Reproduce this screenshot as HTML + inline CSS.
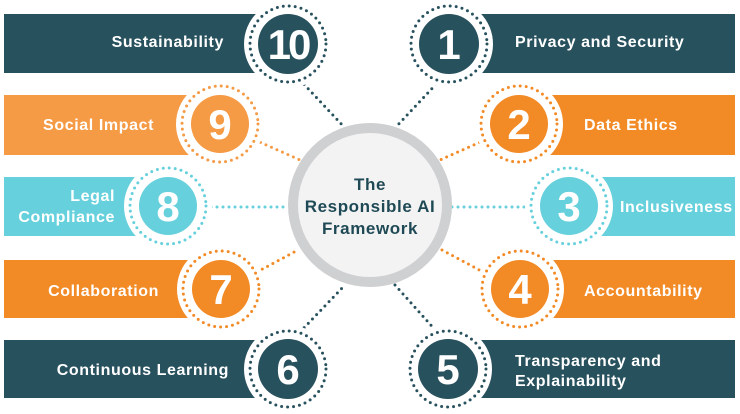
<!DOCTYPE html>
<html><head><meta charset="utf-8"><style>
html,body{margin:0;padding:0;background:#fff;}
svg{display:block;}
text{font-family:"Liberation Sans",sans-serif;font-weight:bold;}
</style></head><body>
<svg width="740" height="414" viewBox="0 0 740 414" xmlns="http://www.w3.org/2000/svg">
<g fill="none" stroke-width="3" stroke-linecap="round" stroke-dasharray="0 6">
<line x1="300" y1="80" x2="345" y2="128" stroke="#28515e"/>
<line x1="440" y1="80" x2="395" y2="128" stroke="#28515e"/>
<line x1="255" y1="140" x2="300" y2="160" stroke="#f59a45"/>
<line x1="485" y1="140" x2="440" y2="160" stroke="#f28a25"/>
<line x1="205" y1="207" x2="288" y2="207" stroke="#66d0dc"/>
<line x1="452" y1="207" x2="532" y2="207" stroke="#66d0dc"/>
<line x1="257" y1="272" x2="298" y2="250" stroke="#f28a25"/>
<line x1="442" y1="250" x2="483" y2="272" stroke="#f28a25"/>
<line x1="300" y1="332" x2="345" y2="285" stroke="#28515e"/>
<line x1="395" y1="285" x2="437" y2="332" stroke="#28515e"/>
</g>
<rect x="4" y="14" width="270" height="59" fill="#28515e"/>
<rect x="4" y="95" width="200" height="60" fill="#f59a45"/>
<rect x="4" y="177" width="150" height="59" fill="#66d0dc"/>
<rect x="4" y="260" width="200" height="58" fill="#f28a25"/>
<rect x="4" y="340" width="270" height="58" fill="#28515e"/>
<rect x="465" y="14" width="270" height="59" fill="#28515e"/>
<rect x="535" y="95" width="200" height="60" fill="#f28a25"/>
<rect x="585" y="177" width="150" height="59" fill="#66d0dc"/>
<rect x="535" y="260" width="200" height="58" fill="#f28a25"/>
<rect x="465" y="340" width="270" height="58" fill="#28515e"/>
<g>
<circle cx="288" cy="44" r="44" fill="#fff"/><circle cx="288" cy="44" r="38" fill="none" stroke="#28515e" stroke-width="3" stroke-linecap="round" stroke-dasharray="0 6"/><circle cx="288" cy="44" r="30" fill="#28515e"/>
<circle cx="220" cy="124" r="44" fill="#fff"/><circle cx="220" cy="124" r="38" fill="none" stroke="#f59a45" stroke-width="3" stroke-linecap="round" stroke-dasharray="0 6"/><circle cx="220" cy="124" r="29" fill="#f59a45"/>
<circle cx="168" cy="206" r="44" fill="#fff"/><circle cx="168" cy="206" r="38" fill="none" stroke="#66d0dc" stroke-width="3" stroke-linecap="round" stroke-dasharray="0 6"/><circle cx="168" cy="206" r="29" fill="#66d0dc"/>
<circle cx="221" cy="289" r="44" fill="#fff"/><circle cx="221" cy="289" r="38" fill="none" stroke="#f28a25" stroke-width="3" stroke-linecap="round" stroke-dasharray="0 6"/><circle cx="221" cy="289" r="29" fill="#f28a25"/>
<circle cx="288" cy="369" r="44" fill="#fff"/><circle cx="288" cy="369" r="38" fill="none" stroke="#28515e" stroke-width="3" stroke-linecap="round" stroke-dasharray="0 6"/><circle cx="288" cy="369" r="30" fill="#28515e"/>
<circle cx="449" cy="44" r="44" fill="#fff"/><circle cx="449" cy="44" r="38" fill="none" stroke="#28515e" stroke-width="3" stroke-linecap="round" stroke-dasharray="0 6"/><circle cx="449" cy="44" r="30" fill="#28515e"/>
<circle cx="519" cy="124" r="44" fill="#fff"/><circle cx="519" cy="124" r="38" fill="none" stroke="#f28a25" stroke-width="3" stroke-linecap="round" stroke-dasharray="0 6"/><circle cx="519" cy="124" r="29" fill="#f28a25"/>
<circle cx="569" cy="206" r="44" fill="#fff"/><circle cx="569" cy="206" r="38" fill="none" stroke="#66d0dc" stroke-width="3" stroke-linecap="round" stroke-dasharray="0 6"/><circle cx="569" cy="206" r="29" fill="#66d0dc"/>
<circle cx="520" cy="289" r="44" fill="#fff"/><circle cx="520" cy="289" r="38" fill="none" stroke="#f28a25" stroke-width="3" stroke-linecap="round" stroke-dasharray="0 6"/><circle cx="520" cy="289" r="29" fill="#f28a25"/>
<circle cx="448" cy="369" r="44" fill="#fff"/><circle cx="448" cy="369" r="38" fill="none" stroke="#28515e" stroke-width="3" stroke-linecap="round" stroke-dasharray="0 6"/><circle cx="448" cy="369" r="30" fill="#28515e"/>
</g>
<g fill="#fff" font-size="42" text-anchor="middle">
<text x="288" y="59" letter-spacing="-3">10</text>
<text x="220" y="139">9</text>
<text x="168" y="221">8</text>
<text x="221" y="304">7</text>
<text x="288" y="384">6</text>
<text x="449" y="59">1</text>
<text x="519" y="139">2</text>
<text x="569" y="221">3</text>
<text x="520" y="304">4</text>
<text x="448" y="384">5</text>
</g>
<circle cx="370" cy="205" r="77" fill="#f3f3f4" stroke="#cfd0d2" stroke-width="10"/>
<g fill="#1f4a55" font-size="17" text-anchor="middle" letter-spacing="0.6">
<text x="370" y="190">The</text>
<text x="370" y="212">Responsible AI</text>
<text x="370" y="234">Framework</text>
</g>
<g fill="#fff" font-size="16" letter-spacing="0.6">
<text x="224" y="47" text-anchor="end">Sustainability</text>
<text x="154" y="130" text-anchor="end">Social Impact</text>
<text x="115" y="201" text-anchor="end">Legal</text>
<text x="115" y="222" text-anchor="end">Compliance</text>
<text x="159" y="296" text-anchor="end">Collaboration</text>
<text x="229" y="375" text-anchor="end">Continuous Learning</text>
<text x="515" y="47">Privacy and Security</text>
<text x="584" y="130">Data Ethics</text>
<text x="620" y="212">Inclusiveness</text>
<text x="584" y="296">Accountability</text>
<text x="515" y="366">Transparency and</text>
<text x="515" y="386">Explainability</text>
</g>
</svg>
</body></html>
